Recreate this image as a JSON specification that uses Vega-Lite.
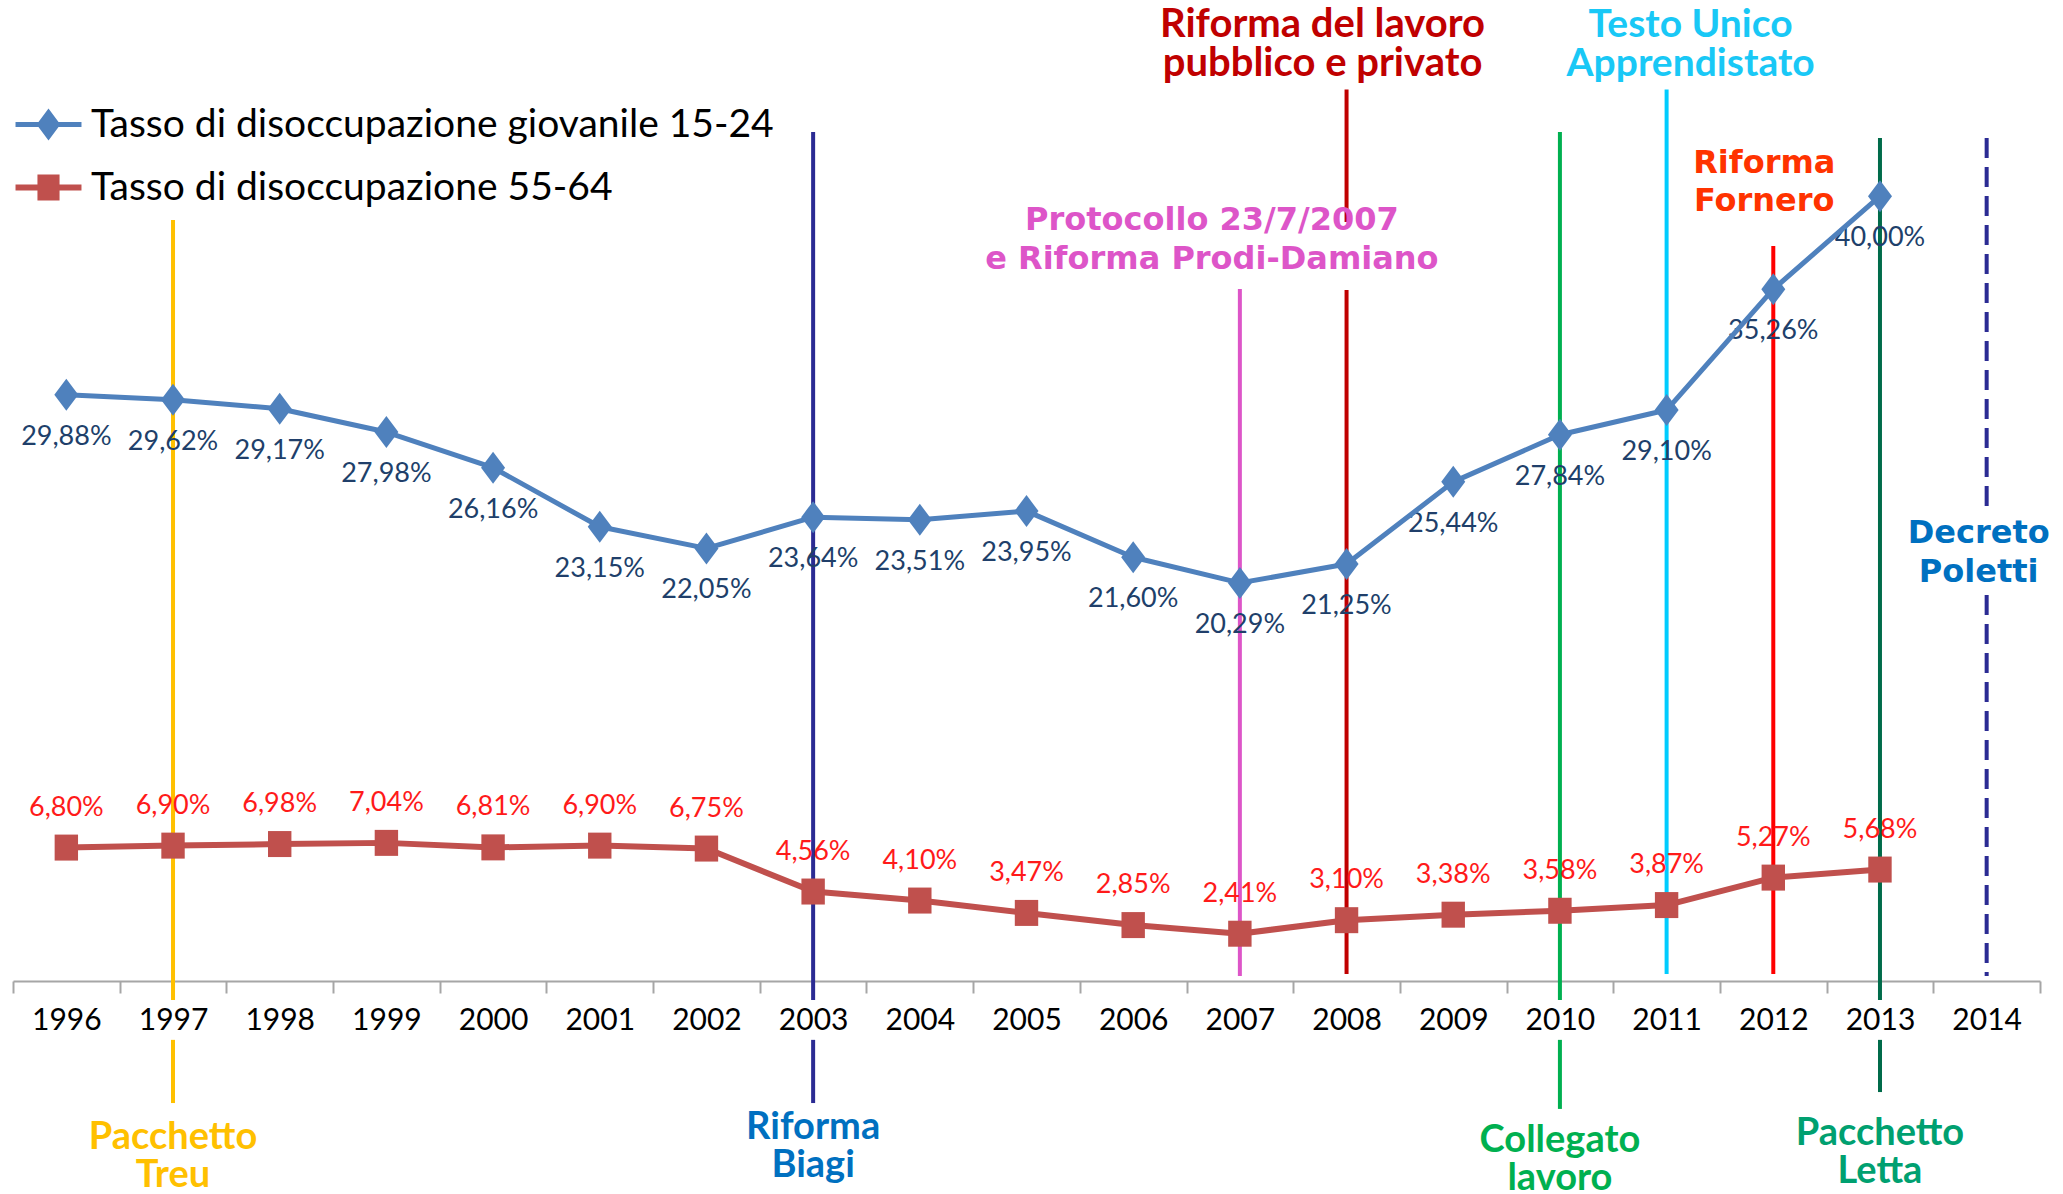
{
  "$schema": "https://vega.github.io/schema/vega-lite/v6.json",
  "width": 2027,
  "height": 981,
  "autosize": {"type": "none"},
  "padding": {"left": 13, "top": 0, "right": 23, "bottom": 213},
  "background": "#ffffff",
  "config": {
    "view": {"stroke": null},
    "font": "Lato",
    "axisX": {
      "domainColor": "#A6A6A6",
      "domainWidth": 2,
      "tickColor": "#A6A6A6",
      "tickWidth": 2,
      "tickSize": 12,
      "tickBand": "extent",
      "labelFont": "Lato",
      "labelFontSize": 30,
      "labelColor": "#000000",
      "labelPadding": 12,
      "labelAngle": 0,
      "grid": false
    }
  },
  "datasets": {
    "rates": [
      {"year": "1996", "series": "Tasso di disoccupazione giovanile 15-24", "value": 29.88},
      {"year": "1997", "series": "Tasso di disoccupazione giovanile 15-24", "value": 29.62},
      {"year": "1998", "series": "Tasso di disoccupazione giovanile 15-24", "value": 29.17},
      {"year": "1999", "series": "Tasso di disoccupazione giovanile 15-24", "value": 27.98},
      {"year": "2000", "series": "Tasso di disoccupazione giovanile 15-24", "value": 26.16},
      {"year": "2001", "series": "Tasso di disoccupazione giovanile 15-24", "value": 23.15},
      {"year": "2002", "series": "Tasso di disoccupazione giovanile 15-24", "value": 22.05},
      {"year": "2003", "series": "Tasso di disoccupazione giovanile 15-24", "value": 23.64},
      {"year": "2004", "series": "Tasso di disoccupazione giovanile 15-24", "value": 23.51},
      {"year": "2005", "series": "Tasso di disoccupazione giovanile 15-24", "value": 23.95},
      {"year": "2006", "series": "Tasso di disoccupazione giovanile 15-24", "value": 21.60},
      {"year": "2007", "series": "Tasso di disoccupazione giovanile 15-24", "value": 20.29},
      {"year": "2008", "series": "Tasso di disoccupazione giovanile 15-24", "value": 21.25},
      {"year": "2009", "series": "Tasso di disoccupazione giovanile 15-24", "value": 25.44},
      {"year": "2010", "series": "Tasso di disoccupazione giovanile 15-24", "value": 27.84},
      {"year": "2011", "series": "Tasso di disoccupazione giovanile 15-24", "value": 29.10},
      {"year": "2012", "series": "Tasso di disoccupazione giovanile 15-24", "value": 35.26},
      {"year": "2013", "series": "Tasso di disoccupazione giovanile 15-24", "value": 40.00},
      {"year": "1996", "series": "Tasso di disoccupazione 55-64", "value": 6.80},
      {"year": "1997", "series": "Tasso di disoccupazione 55-64", "value": 6.90},
      {"year": "1998", "series": "Tasso di disoccupazione 55-64", "value": 6.98},
      {"year": "1999", "series": "Tasso di disoccupazione 55-64", "value": 7.04},
      {"year": "2000", "series": "Tasso di disoccupazione 55-64", "value": 6.81},
      {"year": "2001", "series": "Tasso di disoccupazione 55-64", "value": 6.90},
      {"year": "2002", "series": "Tasso di disoccupazione 55-64", "value": 6.75},
      {"year": "2003", "series": "Tasso di disoccupazione 55-64", "value": 4.56},
      {"year": "2004", "series": "Tasso di disoccupazione 55-64", "value": 4.10},
      {"year": "2005", "series": "Tasso di disoccupazione 55-64", "value": 3.47},
      {"year": "2006", "series": "Tasso di disoccupazione 55-64", "value": 2.85},
      {"year": "2007", "series": "Tasso di disoccupazione 55-64", "value": 2.41},
      {"year": "2008", "series": "Tasso di disoccupazione 55-64", "value": 3.10},
      {"year": "2009", "series": "Tasso di disoccupazione 55-64", "value": 3.38},
      {"year": "2010", "series": "Tasso di disoccupazione 55-64", "value": 3.58},
      {"year": "2011", "series": "Tasso di disoccupazione 55-64", "value": 3.87},
      {"year": "2012", "series": "Tasso di disoccupazione 55-64", "value": 5.27},
      {"year": "2013", "series": "Tasso di disoccupazione 55-64", "value": 5.68}
    ],
    "events": [
      {"event": "Pacchetto Treu", "year": "1997", "top": 38.79, "bottom": -0.97},
      {"event": "Pacchetto Treu", "year": "1997", "top": -3.0, "bottom": -6.22},
      {"event": "Riforma Biagi", "year": "2003", "top": 43.27, "bottom": -0.97},
      {"event": "Riforma Biagi", "year": "2003", "top": -3.0, "bottom": -6.22},
      {"event": "Protocollo 23/7/2007", "year": "2007", "top": 35.27, "bottom": 0.25},
      {"event": "Riforma del lavoro pubblico e privato", "year": "2008", "top": 45.44, "bottom": 38.68},
      {"event": "Riforma del lavoro pubblico e privato", "year": "2008", "top": 35.22, "bottom": 0.36},
      {"event": "Collegato lavoro", "year": "2010", "top": 43.27, "bottom": -0.97},
      {"event": "Collegato lavoro", "year": "2010", "top": -3.0, "bottom": -6.52},
      {"event": "Testo Unico Apprendistato", "year": "2011", "top": 45.44, "bottom": 0.36},
      {"event": "Riforma Fornero", "year": "2012", "top": 37.46, "bottom": 0.36},
      {"event": "Pacchetto Letta", "year": "2013", "top": 42.97, "bottom": -0.97},
      {"event": "Pacchetto Letta", "year": "2013", "top": -3.0, "bottom": -5.66},
      {"event": "Decreto Poletti", "year": "2014", "top": 42.97, "bottom": 24.16},
      {"event": "Decreto Poletti", "year": "2014", "top": 19.67, "bottom": 0.25}
    ]
  },
  "layer": [
    {
      "data": {"name": "events"},
      "transform": [{"filter": "datum.event !== 'Decreto Poletti'"}],
      "mark": {"type": "rule", "strokeWidth": 4},
      "encoding": {
        "x": {"field": "year", "type": "ordinal", "title": null, "scale": {"type": "band", "domain": ["1996","1997","1998","1999","2000","2001","2002","2003","2004","2005","2006","2007","2008","2009","2010","2011","2012","2013","2014"], "paddingInner": 0, "paddingOuter": 0}},
        "y": {"field": "top", "type": "quantitative", "axis": null, "scale": {"domain": [0, 50], "nice": false}},
        "y2": {"field": "bottom"},
        "stroke": {"field": "event", "type": "nominal", "legend": null, "scale": {"domain": ["Pacchetto Treu", "Riforma Biagi", "Protocollo 23/7/2007", "Riforma del lavoro pubblico e privato", "Collegato lavoro", "Testo Unico Apprendistato", "Riforma Fornero", "Pacchetto Letta", "Decreto Poletti"], "range": ["#FFC000", "#2B2B93", "#DD55C8", "#C00000", "#00B050", "#00CCFF", "#FF0000", "#006B4A", "#2B2B93"]}}
      }
    },
    {
      "data": {"name": "events"},
      "transform": [{"filter": "datum.event === 'Decreto Poletti'"}],
      "mark": {"type": "rule", "strokeWidth": 4, "strokeDash": [20, 9]},
      "encoding": {
        "x": {"field": "year", "type": "ordinal", "title": null, "scale": {"type": "band", "domain": ["1996","1997","1998","1999","2000","2001","2002","2003","2004","2005","2006","2007","2008","2009","2010","2011","2012","2013","2014"], "paddingInner": 0, "paddingOuter": 0}},
        "y": {"field": "top", "type": "quantitative", "axis": null, "scale": {"domain": [0, 50], "nice": false}},
        "y2": {"field": "bottom"},
        "stroke": {"field": "event", "type": "nominal", "legend": null, "scale": {"domain": ["Pacchetto Treu", "Riforma Biagi", "Protocollo 23/7/2007", "Riforma del lavoro pubblico e privato", "Collegato lavoro", "Testo Unico Apprendistato", "Riforma Fornero", "Pacchetto Letta", "Decreto Poletti"], "range": ["#FFC000", "#2B2B93", "#DD55C8", "#C00000", "#00B050", "#00CCFF", "#FF0000", "#006B4A", "#2B2B93"]}}
      }
    },
    {
      "data": {"name": "rates"},
      "transform": [
        {"filter": "datum.series === 'Tasso di disoccupazione giovanile 15-24'"},
        {"calculate": "replace(format(datum.value, '.2f'), '.', ',') + '%'", "as": "label"}
      ],
      "mark": {"type": "text", "font": "Lato", "fontSize": 27, "color": "#203F6A", "baseline": "middle", "align": "center", "dy": 42},
      "encoding": {
        "x": {"field": "year", "type": "ordinal", "title": null, "scale": {"type": "band", "domain": ["1996","1997","1998","1999","2000","2001","2002","2003","2004","2005","2006","2007","2008","2009","2010","2011","2012","2013","2014"], "paddingInner": 0, "paddingOuter": 0}},
        "y": {"field": "value", "type": "quantitative", "axis": null, "scale": {"domain": [0, 50], "nice": false}},
        "text": {"field": "label"}
      }
    },
    {
      "data": {"name": "rates"},
      "transform": [
        {"filter": "datum.series === 'Tasso di disoccupazione 55-64'"},
        {"calculate": "replace(format(datum.value, '.2f'), '.', ',') + '%'", "as": "label"}
      ],
      "mark": {"type": "text", "font": "Lato", "fontSize": 27, "color": "#FF1A1A", "baseline": "middle", "align": "center", "dy": -40},
      "encoding": {
        "x": {"field": "year", "type": "ordinal", "title": null, "scale": {"type": "band", "domain": ["1996","1997","1998","1999","2000","2001","2002","2003","2004","2005","2006","2007","2008","2009","2010","2011","2012","2013","2014"], "paddingInner": 0, "paddingOuter": 0}},
        "y": {"field": "value", "type": "quantitative", "axis": null, "scale": {"domain": [0, 50], "nice": false}},
        "text": {"field": "label"}
      }
    },
    {
      "data": {"name": "rates"},
      "transform": [{"filter": "datum.series === 'Tasso di disoccupazione giovanile 15-24'"}],
      "mark": {"type": "line", "strokeCap": "round", "strokeJoin": "round", "color": "#4F81BD", "strokeWidth": 5},
      "encoding": {
        "x": {"field": "year", "type": "ordinal", "title": null, "scale": {"type": "band", "domain": ["1996","1997","1998","1999","2000","2001","2002","2003","2004","2005","2006","2007","2008","2009","2010","2011","2012","2013","2014"], "paddingInner": 0, "paddingOuter": 0}},
        "y": {"field": "value", "type": "quantitative", "axis": null, "scale": {"domain": [0, 50], "nice": false}}
      }
    },
    {
      "data": {"name": "rates"},
      "transform": [{"filter": "datum.series === 'Tasso di disoccupazione 55-64'"}],
      "mark": {"type": "line", "strokeCap": "round", "strokeJoin": "round", "color": "#C0504D", "strokeWidth": 6},
      "encoding": {
        "x": {"field": "year", "type": "ordinal", "title": null, "scale": {"type": "band", "domain": ["1996","1997","1998","1999","2000","2001","2002","2003","2004","2005","2006","2007","2008","2009","2010","2011","2012","2013","2014"], "paddingInner": 0, "paddingOuter": 0}},
        "y": {"field": "value", "type": "quantitative", "axis": null, "scale": {"domain": [0, 50], "nice": false}}
      }
    },
    {
      "data": {"name": "rates"},
      "transform": [{"filter": "datum.series === 'Tasso di disoccupazione 55-64'"}],
      "mark": {"type": "point", "filled": true, "opacity": 1, "color": "#C0504D", "shape": "M-0.9,-1L0.9,-1L0.9,1L-0.9,1Z", "size": 676},
      "encoding": {
        "x": {"field": "year", "type": "ordinal", "title": null, "scale": {"type": "band", "domain": ["1996","1997","1998","1999","2000","2001","2002","2003","2004","2005","2006","2007","2008","2009","2010","2011","2012","2013","2014"], "paddingInner": 0, "paddingOuter": 0}},
        "y": {"field": "value", "type": "quantitative", "axis": null, "scale": {"domain": [0, 50], "nice": false}}
      }
    },
    {
      "data": {"name": "rates"},
      "transform": [{"filter": "datum.series === 'Tasso di disoccupazione giovanile 15-24'"}],
      "mark": {"type": "point", "filled": true, "opacity": 1, "color": "#4F81BD", "shape": "M0,-1L0.75,0L0,1L-0.75,0Z", "size": 1024},
      "encoding": {
        "x": {"field": "year", "type": "ordinal", "title": null, "scale": {"type": "band", "domain": ["1996","1997","1998","1999","2000","2001","2002","2003","2004","2005","2006","2007","2008","2009","2010","2011","2012","2013","2014"], "paddingInner": 0, "paddingOuter": 0}},
        "y": {"field": "value", "type": "quantitative", "axis": null, "scale": {"domain": [0, 50], "nice": false}}
      }
    },
    {
      "data": {"name": "rates"},
      "mark": {"type": "point", "filled": true, "opacity": 0},
      "encoding": {
        "x": {"field": "year", "type": "ordinal", "title": null, "scale": {"type": "band", "domain": ["1996","1997","1998","1999","2000","2001","2002","2003","2004","2005","2006","2007","2008","2009","2010","2011","2012","2013","2014"], "paddingInner": 0, "paddingOuter": 0}},
        "y": {"field": "value", "type": "quantitative", "axis": null, "scale": {"domain": [0, 50], "nice": false}},
        "color": {
          "field": "series", "type": "nominal",
          "scale": {"domain": ["Tasso di disoccupazione giovanile 15-24", "Tasso di disoccupazione 55-64"], "range": ["#4F81BD", "#C0504D"]},
          "legend": {"title": null, "orient": "none", "legendX": 16, "legendY": 105, "padding": 0, "symbolSize": 1156, "symbolStrokeWidth": 0, "symbolOpacity": 1, "labelFont": "Lato", "labelFontSize": 39, "labelColor": "#000000", "labelOffset": 23, "rowPadding": 23, "labelLimit": 1000}
        },
        "shape": {
          "field": "series", "type": "nominal",
          "scale": {"domain": ["Tasso di disoccupazione giovanile 15-24", "Tasso di disoccupazione 55-64"], "range": [
            "M-1.94,-0.15L-0.59,-0.15L0,-0.94L0.59,-0.15L1.94,-0.15L1.94,0.15L0.59,0.15L0,0.94L-0.59,0.15L-1.94,0.15Z",
            "M-1.94,-0.18L-0.65,-0.18L-0.65,-0.76L0.65,-0.76L0.65,-0.18L1.94,-0.18L1.94,0.18L0.65,0.18L0.65,0.76L-0.65,0.76L-0.65,0.18L-1.94,0.18Z"
          ]},
          "legend": {"title": null, "orient": "none", "legendX": 16, "legendY": 105, "padding": 0, "symbolSize": 1156, "symbolStrokeWidth": 0, "symbolOpacity": 1, "labelFont": "Lato", "labelFontSize": 39, "labelColor": "#000000", "labelOffset": 23, "rowPadding": 23, "labelLimit": 1000}
        }
      }
    },
    {
      "data": {"values": [
        {"year": "1997", "note": ["Pacchetto", "Treu"], "pos": -8.0},
        {"year": "2003", "note": ["Riforma", "Biagi"], "pos": -7.49},
        {"year": "2010", "note": ["Collegato", "lavoro"], "pos": -8.15},
        {"year": "2013", "note": ["Pacchetto", "Letta"], "pos": -7.8}
      ]},
      "mark": {"type": "text", "font": "Lato", "fontWeight": "bold", "fontSize": 38, "lineHeight": 38, "baseline": "middle", "align": "center"},
      "encoding": {
        "x": {"field": "year", "type": "ordinal", "title": null, "scale": {"type": "band", "domain": ["1996","1997","1998","1999","2000","2001","2002","2003","2004","2005","2006","2007","2008","2009","2010","2011","2012","2013","2014"], "paddingInner": 0, "paddingOuter": 0}},
        "y": {"field": "pos", "type": "quantitative", "axis": null, "scale": {"domain": [0, 50], "nice": false}},
        "text": {"field": "note"},
        "fill": {"field": "year", "type": "nominal", "legend": null, "scale": {"domain": ["1997", "2003", "2010", "2013"], "range": ["#FFC000", "#0070C0", "#00B050", "#00A070"]}}
      }
    },
    {
      "data": {"values": [{"year": "2008", "note": ["Riforma del lavoro", "pubblico e privato"], "pos": 48.72}]},
      "mark": {"type": "text", "font": "Lato", "fontWeight": "bold", "fontSize": 40, "lineHeight": 39, "baseline": "middle", "align": "center", "dx": -24, "color": "#C00000"},
      "encoding": {
        "x": {"field": "year", "type": "ordinal", "title": null, "scale": {"type": "band", "domain": ["1996","1997","1998","1999","2000","2001","2002","2003","2004","2005","2006","2007","2008","2009","2010","2011","2012","2013","2014"], "paddingInner": 0, "paddingOuter": 0}},
        "y": {"field": "pos", "type": "quantitative", "axis": null, "scale": {"domain": [0, 50], "nice": false}},
        "text": {"field": "note"}
      }
    },
    {
      "data": {"values": [{"year": "2011", "note": ["Testo Unico", "Apprendistato"], "pos": 48.72}]},
      "mark": {"type": "text", "font": "Lato", "fontWeight": "bold", "fontSize": 39, "lineHeight": 39, "baseline": "middle", "align": "center", "dx": 24, "color": "#19C8F6"},
      "encoding": {
        "x": {"field": "year", "type": "ordinal", "title": null, "scale": {"type": "band", "domain": ["1996","1997","1998","1999","2000","2001","2002","2003","2004","2005","2006","2007","2008","2009","2010","2011","2012","2013","2014"], "paddingInner": 0, "paddingOuter": 0}},
        "y": {"field": "pos", "type": "quantitative", "axis": null, "scale": {"domain": [0, 50], "nice": false}},
        "text": {"field": "note"}
      }
    },
    {
      "data": {"values": [{"year": "2007", "note": ["Protocollo 23/7/2007", "e Riforma Prodi-Damiano"], "pos": 38.79}]},
      "mark": {"type": "text", "font": "DejaVu Sans", "fontWeight": "bold", "fontSize": 32, "lineHeight": 39, "baseline": "middle", "align": "center", "dx": -28, "color": "#DD55C8"},
      "encoding": {
        "x": {"field": "year", "type": "ordinal", "title": null, "scale": {"type": "band", "domain": ["1996","1997","1998","1999","2000","2001","2002","2003","2004","2005","2006","2007","2008","2009","2010","2011","2012","2013","2014"], "paddingInner": 0, "paddingOuter": 0}},
        "y": {"field": "pos", "type": "quantitative", "axis": null, "scale": {"domain": [0, 50], "nice": false}},
        "text": {"field": "note"}
      }
    },
    {
      "data": {"values": [{"year": "2012", "note": ["Riforma", "Fornero"], "pos": 41.69}]},
      "mark": {"type": "text", "font": "DejaVu Sans", "fontWeight": "bold", "fontSize": 32, "lineHeight": 38, "baseline": "middle", "align": "center", "dx": -9, "color": "#FF3300"},
      "encoding": {
        "x": {"field": "year", "type": "ordinal", "title": null, "scale": {"type": "band", "domain": ["1996","1997","1998","1999","2000","2001","2002","2003","2004","2005","2006","2007","2008","2009","2010","2011","2012","2013","2014"], "paddingInner": 0, "paddingOuter": 0}},
        "y": {"field": "pos", "type": "quantitative", "axis": null, "scale": {"domain": [0, 50], "nice": false}},
        "text": {"field": "note"}
      }
    },
    {
      "data": {"values": [{"year": "2014", "note": ["Decreto", "Poletti"], "pos": 22.83}]},
      "mark": {"type": "text", "font": "DejaVu Sans", "fontWeight": "bold", "fontSize": 32, "lineHeight": 39, "baseline": "middle", "align": "center", "dx": -8, "color": "#0070C0"},
      "encoding": {
        "x": {"field": "year", "type": "ordinal", "title": null, "scale": {"type": "band", "domain": ["1996","1997","1998","1999","2000","2001","2002","2003","2004","2005","2006","2007","2008","2009","2010","2011","2012","2013","2014"], "paddingInner": 0, "paddingOuter": 0}},
        "y": {"field": "pos", "type": "quantitative", "axis": null, "scale": {"domain": [0, 50], "nice": false}},
        "text": {"field": "note"}
      }
    }
  ]
}
